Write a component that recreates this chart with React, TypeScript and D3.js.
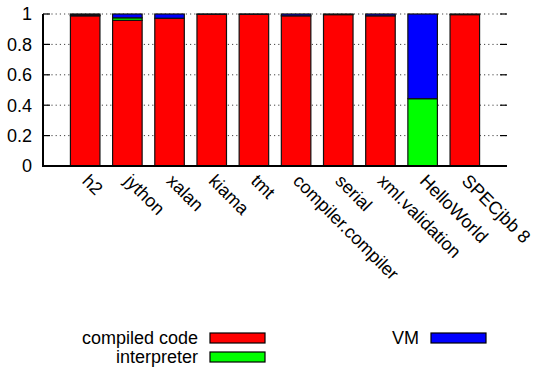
import React from "react";
import * as d3 from "d3";

// Fraction of execution time per benchmark, stacked bottom to top
const benchmarks = [
  "h2",
  "jython",
  "xalan",
  "kiama",
  "tmt",
  "compiler.compiler",
  "serial",
  "xml.validation",
  "HelloWorld",
  "SPECjbb 8",
];
const compiledCode = [0.988, 0.958, 0.972, 0.998, 0.998, 0.988, 0.996, 0.988, 0.0, 0.996];
const interpreter = [0.004, 0.017, 0.0, 0.0, 0.0, 0.0, 0.0, 0.0, 0.443, 0.0];
const vm = [0.008, 0.025, 0.028, 0.002, 0.002, 0.012, 0.004, 0.012, 0.557, 0.004];

const seriesNames = ["compiled code", "interpreter", "VM"];
const seriesColors = ["#ff0000", "#00ff00", "#0000ff"];
const yTicks = [0, 0.2, 0.4, 0.6, 0.8, 1];

const W = 534;
const H = 368;
const FONT = "'Liberation Sans', Arial, Helvetica, sans-serif";

export default function App() {
  const x = d3.scaleLinear().domain([-1, benchmarks.length]).range([43, 507]);
  const y = d3.scaleLinear().domain([0, 1]).range([166, 14]);
  const barW = x(0.7) - x(0);

  const rows = benchmarks.map((name, i) => ({
    name,
    i,
    "compiled code": compiledCode[i],
    interpreter: interpreter[i],
    VM: vm[i],
  }));
  const stacked = d3.stack<any>().keys(seriesNames)(rows);

  const legend = [
    { name: "compiled code", color: seriesColors[0], tx: 198, bx: 210, by: 333 },
    { name: "interpreter", color: seriesColors[1], tx: 198, bx: 210, by: 352 },
    { name: "VM", color: seriesColors[2], tx: 419, bx: 431, by: 333 },
  ];

  return (
    <svg
      width={W}
      height={H}
      style={{ position: "absolute", left: 0, top: 0, background: "#fff" }}
      fontFamily={FONT}
    >
      {/* grid and tick marks */}
      {yTicks.map((t) => (
        <g key={t}>
          {t > 0 && (
            <line
              x1={x.range()[0]}
              x2={x.range()[1]}
              y1={y(t)}
              y2={y(t)}
              stroke="#444"
              strokeWidth={1}
              strokeDasharray="1.2 3"
            />
          )}
          <line x1={43} x2={50} y1={y(t)} y2={y(t)} stroke="#000" strokeWidth={1.2} />
          <line x1={500} x2={507} y1={y(t)} y2={y(t)} stroke="#000" strokeWidth={1.2} />
          <text
            x={32}
            y={y(t)}
            dy="0.36em"
            textAnchor="end"
            fontSize={18}
            fill="#000"
          >
            {d3.format("~g")(t)}
          </text>
        </g>
      ))}

      {/* stacked bars */}
      {stacked.map((layer, si) => (
        <g key={layer.key} fill={seriesColors[si]}>
          {layer.map((d: any, i: number) =>
            d[1] - d[0] > 0 ? (
              <rect
                key={i}
                x={x(i) - barW / 2}
                y={y(d[1])}
                width={barW}
                height={y(d[0]) - y(d[1])}
                stroke="#111"
                strokeWidth={1.2}
              />
            ) : null
          )}
        </g>
      ))}

      {/* axes */}
      <line x1={43} x2={43} y1={y(1)} y2={y(0)} stroke="#000" strokeWidth={2} />
      <line x1={42} x2={507} y1={y(0)} y2={y(0)} stroke="#000" strokeWidth={2} />

      {/* category labels */}
      {benchmarks.map((b, i) => (
        <text
          key={b}
          transform={`translate(${x(i) - 4},${182}) rotate(45)`}
          fontSize={18}
          fill="#000"
        >
          {b}
        </text>
      ))}

      {/* legend */}
      {legend.map((l) => (
        <g key={l.name}>
          <text x={l.tx} y={l.by + 11} textAnchor="end" fontSize={18} fill="#000">
            {l.name}
          </text>
          <rect x={l.bx} y={l.by} width={55} height={10} fill={l.color} stroke="#000" strokeWidth={1.2} />
        </g>
      ))}
    </svg>
  );
}
